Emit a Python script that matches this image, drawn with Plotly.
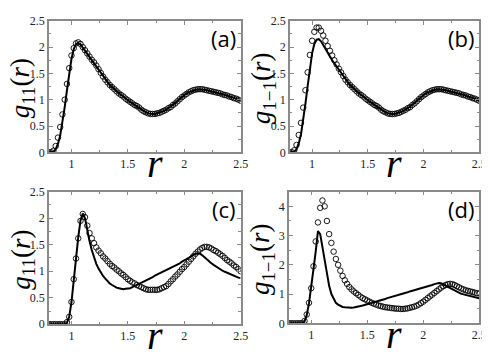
import plotly.graph_objects as go
from plotly.subplots import make_subplots

# r grid shared by all panels
r = [0.80, 0.82, 0.84, 0.86, 0.88, 0.90, 0.92, 0.94, 0.96, 0.98,
     1.00, 1.02, 1.04, 1.06, 1.08, 1.10, 1.12, 1.14, 1.16, 1.18,
     1.20, 1.22, 1.24, 1.26, 1.28, 1.30, 1.32, 1.34, 1.36, 1.38,
     1.40, 1.42, 1.44, 1.46, 1.48, 1.50, 1.52, 1.54, 1.56, 1.58,
     1.60, 1.62, 1.64, 1.66, 1.68, 1.70, 1.72, 1.74, 1.76, 1.78,
     1.80, 1.82, 1.84, 1.86, 1.88, 1.90, 1.92, 1.94, 1.96, 1.98,
     2.00, 2.02, 2.04, 2.06, 2.08, 2.10, 2.12, 2.14, 2.16, 2.18,
     2.20, 2.22, 2.24, 2.26, 2.28, 2.30, 2.32, 2.34, 2.36, 2.38,
     2.40, 2.42, 2.44, 2.46, 2.48, 2.50]

# (a) g11 - simulation (circles) and theory (line)
a_sim = [0.00, 0.00, 0.03, 0.12, 0.28, 0.48, 0.72, 1.00, 1.30, 1.60,
         1.84, 1.98, 2.07, 2.09, 2.06, 2.00, 1.94, 1.88, 1.82, 1.76,
         1.71, 1.65, 1.58, 1.51, 1.44, 1.38, 1.33, 1.28, 1.24, 1.20,
         1.16, 1.12, 1.09, 1.06, 1.02, 0.99, 0.96, 0.93, 0.90, 0.88,
         0.85, 0.81, 0.78, 0.76, 0.74, 0.73, 0.73, 0.73, 0.74, 0.75,
         0.77, 0.79, 0.81, 0.84, 0.86, 0.90, 0.93, 0.97, 1.01, 1.05,
         1.08, 1.11, 1.14, 1.16, 1.18, 1.19, 1.20, 1.20, 1.20, 1.19,
         1.18, 1.17, 1.16, 1.15, 1.14, 1.13, 1.12, 1.10, 1.09, 1.08,
         1.06, 1.05, 1.03, 1.02, 1.00, 0.98]
a_th = [0.00, 0.00, 0.01, 0.06, 0.16, 0.32, 0.56, 0.86, 1.18, 1.50,
        1.78, 1.96, 2.06, 2.08, 2.05, 1.99, 1.93, 1.87, 1.81, 1.75,
        1.70, 1.64, 1.57, 1.50, 1.44, 1.38, 1.33, 1.28, 1.24, 1.20,
        1.16, 1.12, 1.09, 1.06, 1.02, 0.99, 0.96, 0.93, 0.90, 0.87,
        0.84, 0.81, 0.78, 0.76, 0.74, 0.73, 0.73, 0.73, 0.74, 0.75,
        0.77, 0.79, 0.81, 0.84, 0.87, 0.90, 0.94, 0.98, 1.02, 1.05,
        1.09, 1.12, 1.14, 1.16, 1.18, 1.19, 1.20, 1.20, 1.20, 1.19,
        1.18, 1.17, 1.16, 1.15, 1.14, 1.13, 1.12, 1.10, 1.09, 1.08,
        1.06, 1.05, 1.03, 1.02, 1.00, 0.98]

# (b) g1-1
b_sim = [0.00, 0.00, 0.04, 0.14, 0.33, 0.56, 0.85, 1.18, 1.52, 1.85,
         2.12, 2.29, 2.37, 2.37, 2.31, 2.22, 2.12, 2.02, 1.93, 1.84,
         1.75, 1.67, 1.59, 1.52, 1.45, 1.38, 1.33, 1.28, 1.24, 1.20,
         1.16, 1.12, 1.09, 1.06, 1.02, 0.99, 0.96, 0.93, 0.90, 0.88,
         0.85, 0.81, 0.78, 0.76, 0.74, 0.73, 0.73, 0.73, 0.74, 0.75,
         0.77, 0.79, 0.81, 0.84, 0.86, 0.90, 0.93, 0.97, 1.01, 1.05,
         1.08, 1.11, 1.14, 1.16, 1.18, 1.19, 1.20, 1.20, 1.20, 1.19,
         1.18, 1.17, 1.16, 1.15, 1.14, 1.13, 1.12, 1.10, 1.09, 1.08,
         1.06, 1.05, 1.03, 1.02, 1.00, 0.98]
b_th = [0.00, 0.00, 0.01, 0.06, 0.17, 0.34, 0.60, 0.92, 1.26, 1.60,
        1.88, 2.06, 2.14, 2.15, 2.11, 2.04, 1.96, 1.89, 1.82, 1.75,
        1.69, 1.63, 1.57, 1.50, 1.44, 1.38, 1.33, 1.28, 1.24, 1.20,
        1.16, 1.12, 1.09, 1.06, 1.02, 0.99, 0.96, 0.93, 0.90, 0.87,
        0.84, 0.81, 0.78, 0.76, 0.74, 0.73, 0.73, 0.73, 0.74, 0.75,
        0.77, 0.79, 0.81, 0.84, 0.87, 0.90, 0.94, 0.98, 1.02, 1.05,
        1.09, 1.12, 1.14, 1.16, 1.18, 1.19, 1.20, 1.20, 1.20, 1.19,
        1.18, 1.17, 1.16, 1.15, 1.14, 1.13, 1.12, 1.10, 1.09, 1.08,
        1.06, 1.05, 1.03, 1.02, 1.00, 0.98]

# (c) g11
c_sim = [0.00, 0.00, 0.00, 0.00, 0.00, 0.00, 0.00, 0.00, 0.04, 0.14,
         0.42, 0.85, 1.24, 1.62, 1.95, 2.08, 2.02, 1.86, 1.72, 1.62,
         1.53, 1.45, 1.39, 1.34, 1.28, 1.24, 1.19, 1.14, 1.10, 1.07,
         1.03, 1.00, 0.96, 0.93, 0.89, 0.85, 0.82, 0.79, 0.77, 0.74,
         0.72, 0.70, 0.68, 0.66, 0.65, 0.65, 0.65, 0.65, 0.65, 0.66,
         0.68, 0.70, 0.72, 0.76, 0.81, 0.85, 0.90, 0.94, 0.99, 1.04,
         1.08, 1.13, 1.18, 1.23, 1.28, 1.33, 1.37, 1.41, 1.44, 1.46,
         1.46, 1.45, 1.43, 1.40, 1.38, 1.35, 1.32, 1.29, 1.25, 1.21,
         1.18, 1.15, 1.11, 1.08, 1.04, 1.00]
c_th = [0.00, 0.00, 0.00, 0.00, 0.00, 0.00, 0.00, 0.00, 0.03, 0.14,
        0.42, 0.85, 1.26, 1.64, 1.96, 2.09, 2.00, 1.76, 1.57, 1.40,
        1.26, 1.14, 1.05, 0.97, 0.91, 0.86, 0.81, 0.77, 0.74, 0.71,
        0.69, 0.68, 0.67, 0.66, 0.67, 0.67, 0.68, 0.70, 0.72, 0.74,
        0.76, 0.79, 0.81, 0.83, 0.85, 0.87, 0.89, 0.92, 0.94, 0.96,
        0.98, 1.00, 1.02, 1.05, 1.07, 1.09, 1.11, 1.13, 1.15, 1.18,
        1.20, 1.22, 1.25, 1.28, 1.31, 1.33, 1.34, 1.33, 1.30, 1.26,
        1.22, 1.18, 1.15, 1.12, 1.09, 1.06, 1.04, 1.01, 0.99, 0.97,
        0.95, 0.93, 0.91, 0.90, 0.88, 0.87]

# (d) g1-1
d_sim = [0.00, 0.00, 0.00, 0.00, 0.00, 0.00, 0.00, 0.08, 0.30, 0.70,
         1.20, 1.95, 2.80, 3.45, 3.95, 4.20, 4.00, 3.50, 3.05, 2.75,
         2.45, 2.20, 2.00, 1.80, 1.62, 1.47, 1.35, 1.24, 1.16, 1.09,
         1.03, 0.97, 0.91, 0.86, 0.82, 0.78, 0.74, 0.70, 0.67, 0.64,
         0.61, 0.59, 0.57, 0.55, 0.54, 0.53, 0.52, 0.51, 0.50, 0.50,
         0.49, 0.49, 0.50, 0.51, 0.53, 0.55, 0.57, 0.60, 0.64, 0.69,
         0.74, 0.80, 0.86, 0.92, 0.98, 1.04, 1.10, 1.16, 1.22, 1.27,
         1.31, 1.34, 1.35, 1.34, 1.31, 1.27, 1.23, 1.19, 1.16, 1.13,
         1.11, 1.09, 1.07, 1.05, 1.03, 1.02]
d_th = [0.00, 0.00, 0.00, 0.00, 0.00, 0.00, 0.00, 0.07, 0.28, 0.68,
        1.20, 1.85, 2.45, 3.15, 3.05, 2.60, 2.05, 1.65, 1.28, 1.00,
        0.82, 0.70, 0.64, 0.59, 0.56, 0.55, 0.54, 0.53, 0.53, 0.54,
        0.55, 0.57, 0.59, 0.61, 0.63, 0.65, 0.68, 0.70, 0.72, 0.74,
        0.77, 0.79, 0.81, 0.83, 0.86, 0.88, 0.90, 0.93, 0.95, 0.97,
        0.99, 1.02, 1.04, 1.06, 1.09, 1.11, 1.13, 1.15, 1.18, 1.20,
        1.22, 1.24, 1.27, 1.29, 1.31, 1.34, 1.36, 1.38, 1.37, 1.33,
        1.28, 1.23, 1.19, 1.15, 1.11, 1.07, 1.04, 1.01, 0.99, 0.97,
        0.95, 0.93, 0.91, 0.89, 0.87, 0.86]

panels = [
    (1, 1, a_sim, a_th, "(a)", "11", 2.5),
    (1, 2, b_sim, b_th, "(b)", "1\u22121", 2.5),
    (2, 1, c_sim, c_th, "(c)", "11", 2.5),
    (2, 2, d_sim, d_th, "(d)", "1\u22121", 4.5),
]

W, H = 490, 354
# axes boxes in pixels: (left, right, top, bottom)
boxes = {
    (1, 1): (41.6, 236.5, 6, 143),
    (1, 2): (286.5, 479, 6, 143),
    (2, 1): (41.6, 236.5, 184, 322),
    (2, 2): (285.5, 479, 184, 321),
}

fig = make_subplots(rows=2, cols=2)

axis_color = "#8a8a8a"
serif = "Times New Roman"
tick_font = dict(family=serif, size=12, color="#222")

for row, col, sim, th, tag, sub, ymax in panels:
    fig.add_trace(go.Scatter(
        x=r, y=sim, mode="markers",
        marker=dict(symbol="circle-open", size=5.5, color="black",
                    line=dict(width=0.9, color="black")),
        showlegend=False), row=row, col=col)
    fig.add_trace(go.Scatter(
        x=r, y=th, mode="lines",
        line=dict(color="black", width=2),
        showlegend=False), row=row, col=col)

    left, right, top, bottom = boxes[(row, col)]
    xd = [left / W, right / W]
    yd = [1 - bottom / H, 1 - top / H]

    if ymax > 3:
        ytickvals = [0, 1, 2, 3, 4]
        yticktext = ["0", "1", "2", "3", "4"]
        ydt = 1
    else:
        ytickvals = [0, 0.5, 1, 1.5, 2, 2.5]
        yticktext = ["0", "0.5", "1", "1.5", "2", "2.5"]
        ydt = 0.5

    fig.update_xaxes(
        domain=xd, range=[0.8, 2.5],
        tickvals=[1, 1.5, 2, 2.5], ticktext=["1", "1.5", "2", "2.5"],
        ticks="inside", ticklen=4, tickcolor=axis_color, tickwidth=1,
        minor=dict(dtick=0.25, tick0=0, ticks="inside", ticklen=2.5,
                   tickcolor=axis_color),
        showline=True, linecolor=axis_color, linewidth=1.5, mirror="ticks",
        showgrid=False, zeroline=False, tickfont=tick_font,
        ticklabeloverflow="allow",
        row=row, col=col)
    fig.update_yaxes(
        domain=yd, range=[0, ymax],
        tickvals=ytickvals, ticktext=yticktext,
        ticks="inside", ticklen=4, tickcolor=axis_color, tickwidth=1,
        minor=dict(dtick=ydt / 2, tick0=0, ticks="inside", ticklen=2.5,
                   tickcolor=axis_color),
        showline=True, linecolor=axis_color, linewidth=1.5, mirror="ticks",
        showgrid=False, zeroline=False, tickfont=tick_font,
        ticklabeloverflow="allow",
        row=row, col=col)

    # panel tag
    fig.add_annotation(
        x=(right - 3) / W, y=1 - (top + 18) / H, xref="paper", yref="paper",
        text=tag, showarrow=False, xanchor="right", yanchor="middle",
        font=dict(family="Open Sans", size=22, color="black"))
    # y title
    fig.add_annotation(
        x=15 / W + (left - 41.6) / W, y=1 - ((top + bottom) / 2 + 2) / H,
        xref="paper", yref="paper", textangle=-90,
        text=f"<i>g</i><sub>{sub}</sub>(<i>r</i>)", showarrow=False,
        xanchor="center", yanchor="middle",
        font=dict(family=serif, size=27, color="black"))
    # x title
    fig.add_annotation(
        x=(left + right) / 2 / W + 10 / W, y=1 - (bottom + 12) / H,
        xref="paper", yref="paper",
        text="<i>r</i>", showarrow=False, xanchor="center", yanchor="middle",
        font=dict(family=serif, size=40, color="black"))

fig.update_layout(
    width=W, height=H,
    margin=dict(l=0, r=0, t=0, b=0),
    paper_bgcolor="white", plot_bgcolor="white",
)

fig.write_html("out.html")
